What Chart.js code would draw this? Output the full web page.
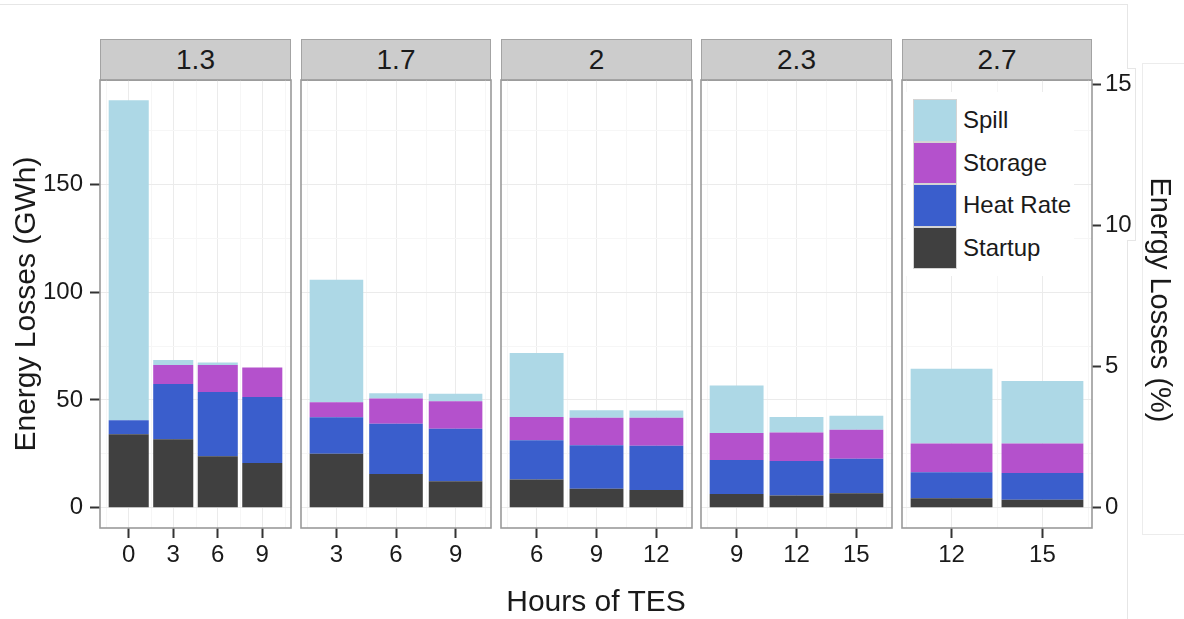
<!DOCTYPE html>
<html>
<head>
<meta charset="utf-8">
<title>Energy Losses by Hours of TES</title>
<script src="https://cdn.jsdelivr.net/npm/chart.js@4.4.1/dist/chart.umd.min.js"></script>
<style>
  html, body { margin: 0; padding: 0; background: #fff; }
  #page {
    position: relative; width: 1184px; height: 619px; overflow: hidden;
    font-family: 'Liberation Sans', Arial, sans-serif; color: #1a1a1a;
  }
  #page canvas { position: absolute; left: 0; top: 0; }
  .strip {
    position: absolute; top: 39px; height: 42px; box-sizing: border-box;
    background: #cccccc; border: 1px solid #a3a3a3;
    text-align: center; font-size: 28px; line-height: 40px;
  }
  .title { position: absolute; white-space: nowrap; text-align: center; }
  .faint { position: absolute; box-sizing: border-box; }
  #legend { position: absolute; left: 906px; top: 92px; width: 168px; height: 184px; background: #fff; }
  #legend .row { position: absolute; left: 7px; height: 42.5px; }
  #legend .key { position: absolute; left: 0; top: 0; width: 44px; height: 42.5px; box-sizing: border-box; border: 1px solid #d4d4d4; }
  #legend .lab { position: absolute; left: 50px; top: 0; line-height: 42.5px; font-size: 24px; white-space: nowrap; }
</style>
</head>
<body>
<div id="page">
  <!-- faint frame lines from the original screenshot -->
  <div class="faint" style="left:0;top:4px;width:1127px;height:1px;background:#e6e6e6"></div>
  <div class="faint" style="left:1127px;top:4px;width:1px;height:615px;background:#e6e6e6"></div>
  <div class="faint" style="left:1127px;top:68px;width:9px;height:173px;background:#fff;border:1px solid #e6e6e6;border-left:none"></div>
  <div class="faint" style="left:1142px;top:63px;width:60px;height:472px;background:#fff;border:1px solid #ececec;border-right:none"></div>
</div>
<script>
// Facets (strip labels) and hours of TES per facet
var facets = ['1.3', '1.7', '2', '2.3', '2.7'];
var hours = [[0, 3, 6, 9], [3, 6, 9], [6, 9, 12], [9, 12, 15], [12, 15]];

// Energy losses in GWh, one list per facet
var startup  = [[34.0, 31.7, 23.8, 20.7], [25.0, 15.6, 12.3], [13.1, 8.8, 8.2], [6.3, 5.6, 6.7], [4.3, 3.7]];
var heatRate = [[6.6, 25.7, 29.9, 30.7], [17.0, 23.3, 24.3], [18.2, 20.2, 20.5], [15.8, 16.0, 16.0], [12.1, 12.4]];
var storage  = [[0, 8.8, 12.5, 13.6], [6.9, 11.7, 12.8], [10.8, 12.7, 13.0], [12.5, 13.3, 13.4], [13.4, 13.7]];
var spill    = [[148.4, 2.3, 1.1, 0], [56.8, 2.5, 3.4], [29.7, 3.5, 3.4], [22.1, 7.2, 6.5], [34.6, 29.0]];

// Axis ticks
var gwhTicks = [0, 50, 100, 150];
var pctTicks = [0, 5, 10, 15];
var gwhPerPercent = 13.1;

var series = [
    { label: 'Startup',   values: startup,  color: '#404040' },
    { label: 'Heat Rate', values: heatRate, color: '#3a5ecc' },
    { label: 'Storage',   values: storage,  color: '#b451cc' },
    { label: 'Spill',     values: spill,    color: '#add8e6' }
];

// Layout of the facet panels on the page
var pageW = 1184, pageH = 619;
var panelLeft  = [100, 301, 501, 701, 902];
var panelRight = [291, 491, 692, 892, 1092];
var panelTop = 80, panelBottom = 528;
var leftAxisW = 60, rightAxisW = 60, xAxisH = 60;
var barWidth = 2.7;

var majorGrid = '#ebebeb';
var minorGrid = '#f6f6f6';
var tickInk = '#333333';

Chart.defaults.font.family = "'Liberation Sans', Arial, sans-serif";
Chart.defaults.color = '#1a1a1a';

function minorBreaks(majors, lo, hi) {
    var step = majors[1] - majors[0];
    var out = [];
    for (var v = majors[0] - step / 2; v <= hi; v += step) {
        if (v >= lo) out.push(v);
    }
    return out;
}

// y range shared by all panels (ggplot style 5% expansion)
var maxTotal = 0;
facets.forEach(function(f, i) {
    hours[i].forEach(function(h, j) {
        var t = 0;
        series.forEach(function(s) { t += s.values[i][j]; });
        maxTotal = Math.max(maxTotal, t);
    });
});
var yMin = -0.05 * maxTotal;
var yMax = maxTotal * 1.05;
var yGridValues = gwhTicks.concat(minorBreaks(gwhTicks, yMin, yMax)).sort(function(a, b) { return a - b; });

var page = document.getElementById('page');

function makePanel(i) {
    var first = i === 0;
    var last = i === facets.length - 1;
    var xs = hours[i];
    var lo = xs[0] - barWidth / 2;
    var hi = xs[xs.length - 1] + barWidth / 2;
    var expand = (hi - lo) * 0.05;
    var xMin = lo - expand, xMax = hi + expand;
    var xMinor = minorBreaks(xs, xMin, xMax);

    // strip on top of the panel
    var strip = document.createElement('div');
    strip.className = 'strip';
    strip.style.left = panelLeft[i] + 'px';
    strip.style.width = (panelRight[i] - panelLeft[i]) + 'px';
    strip.textContent = facets[i];
    page.appendChild(strip);

    var canvas = document.createElement('canvas');
    canvas.width = pageW;
    canvas.height = pageH;
    page.appendChild(canvas);

    var leftW = first ? leftAxisW : 0;
    var rightW = last ? rightAxisW : 0;

    var panelFrame = {
        id: 'panelFrame' + i,
        beforeDraw: function(chart) {
            var a = chart.chartArea, ctx = chart.ctx, sx = chart.scales.x;
            ctx.save();
            ctx.strokeStyle = minorGrid;
            ctx.lineWidth = 1;
            xMinor.forEach(function(v) {
                var px = Math.round(sx.getPixelForValue(v)) + 0.5;
                ctx.beginPath();
                ctx.moveTo(px, a.top);
                ctx.lineTo(px, a.bottom);
                ctx.stroke();
            });
            ctx.restore();
        },
        afterDraw: function(chart) {
            var a = chart.chartArea, ctx = chart.ctx;
            ctx.save();
            ctx.strokeStyle = '#9a9a9a';
            ctx.lineWidth = 1.6;
            ctx.strokeRect(a.left, a.top, a.right - a.left, a.bottom - a.top);
            ctx.restore();
        }
    };

    var datasets = series.map(function(s) {
        return {
            label: s.label,
            data: xs.map(function(h, j) { return { x: h, y: s.values[i][j] }; }),
            backgroundColor: s.color,
            borderWidth: 0,
            categoryPercentage: 1,
            barPercentage: 0.9,
            xAxisID: 'x',
            yAxisID: 'y'
        };
    });

    var scales = {
        x: {
            type: 'linear',
            stacked: true,
            offset: false,
            min: xMin,
            max: xMax,
            afterBuildTicks: function(scale) {
                scale.ticks = xs.map(function(v) { return { value: v }; });
            },
            afterFit: function(scale) { scale.height = xAxisH; },
            grid: { offset: false, color: majorGrid, lineWidth: 1, tickLength: 10, tickColor: tickInk, tickWidth: 2 },
            border: { display: false },
            ticks: { font: { size: 24 }, color: '#1a1a1a', padding: 3, autoSkip: false, maxRotation: 0 }
        },
        y: {
            type: 'linear',
            stacked: true,
            min: yMin,
            max: yMax,
            afterBuildTicks: function(scale) {
                scale.ticks = yGridValues.map(function(v) { return { value: v }; });
            },
            afterFit: function(scale) { scale.width = leftW; },
            grid: {
                color: function(ctx) { return gwhTicks.indexOf(ctx.tick.value) >= 0 ? majorGrid : minorGrid; },
                lineWidth: 1,
                drawTicks: first,
                tickLength: 10,
                tickWidth: 2,
                tickColor: function(ctx) { return gwhTicks.indexOf(ctx.tick.value) >= 0 ? tickInk : 'rgba(0,0,0,0)'; }
            },
            border: { display: false },
            ticks: {
                display: first,
                font: { size: 24 },
                color: '#1a1a1a',
                padding: 7,
                autoSkip: false,
                callback: function(v) { return gwhTicks.indexOf(v) >= 0 ? String(v) : ''; }
            }
        }
    };

    if (last) {
        // secondary axis: same losses as a percentage
        scales.yPct = {
            type: 'linear',
            position: 'right',
            min: yMin / gwhPerPercent,
            max: yMax / gwhPerPercent,
            afterBuildTicks: function(scale) {
                scale.ticks = pctTicks.map(function(v) { return { value: v }; });
            },
            afterFit: function(scale) { scale.width = rightW; },
            grid: { drawOnChartArea: false, tickLength: 9, tickWidth: 2, tickColor: tickInk },
            border: { display: false },
            ticks: { font: { size: 24 }, color: '#1a1a1a', padding: 4, autoSkip: false }
        };
    }

    return new Chart(canvas.getContext('2d'), {
        type: 'bar',
        data: { datasets: datasets },
        options: {
            responsive: false,
            animation: false,
            layout: {
                autoPadding: false,
                padding: {
                    left: panelLeft[i] - leftW,
                    right: pageW - panelRight[i] - rightW,
                    top: panelTop,
                    bottom: pageH - panelBottom - xAxisH
                }
            },
            plugins: {
                legend: { display: false },
                tooltip: { enabled: false }
            },
            scales: scales
        },
        plugins: [panelFrame]
    });
}

facets.forEach(function(f, i) { makePanel(i); });

// Axis titles
function addTitle(text, cx, cy, size, angle) {
    var el = document.createElement('div');
    el.className = 'title';
    el.textContent = text;
    el.style.fontSize = size + 'px';
    el.style.width = '400px';
    el.style.height = '34px';
    el.style.lineHeight = '34px';
    el.style.left = (cx - 200) + 'px';
    el.style.top = (cy - 17) + 'px';
    if (angle) el.style.transform = 'rotate(' + angle + 'deg)';
    page.appendChild(el);
}
addTitle('Energy Losses (GWh)', 24.5, 304, 30, -90);
addTitle('Hours of TES', 596, 601, 30, 0);
addTitle('Energy Losses (%)', 1161, 300, 29, 90);

// Legend inside the last panel, top layer first
var legend = document.createElement('div');
legend.id = 'legend';
series.slice().reverse().forEach(function(s, k) {
    var row = document.createElement('div');
    row.className = 'row';
    row.style.top = (7 + k * 42.5) + 'px';
    var key = document.createElement('div');
    key.className = 'key';
    key.style.background = s.color;
    var lab = document.createElement('div');
    lab.className = 'lab';
    lab.textContent = s.label;
    row.appendChild(key);
    row.appendChild(lab);
    legend.appendChild(row);
});
page.appendChild(legend);
</script>
</body>
</html>
